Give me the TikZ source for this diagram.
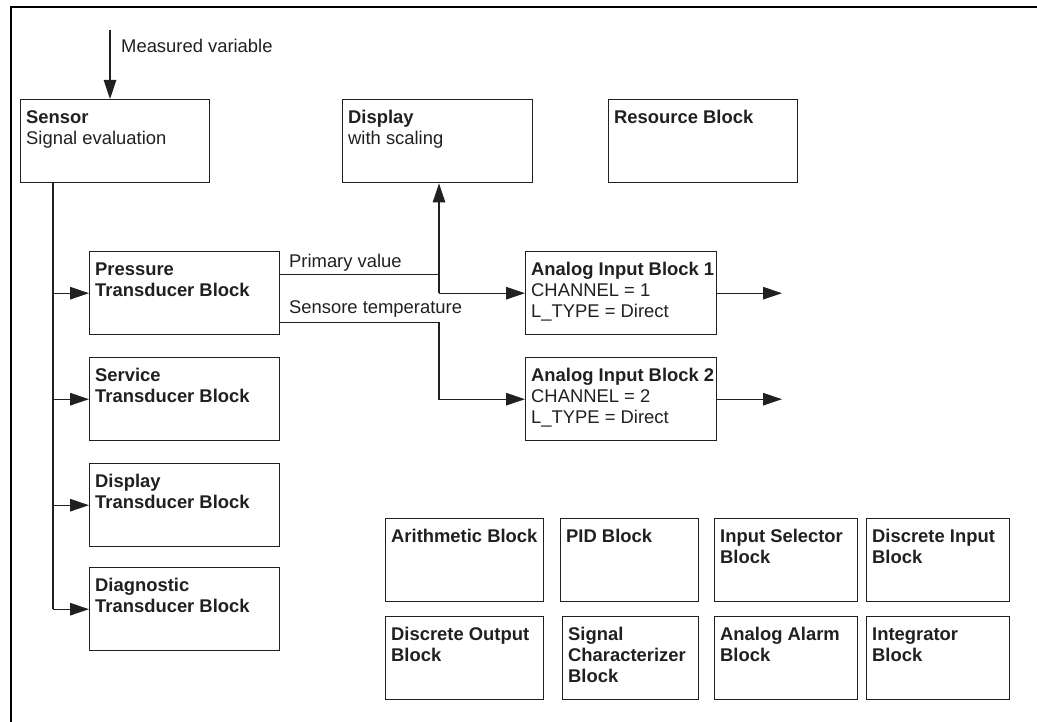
\documentclass[tikz,border=0pt]{standalone}
\usepackage{fontspec}
\setmainfont{Liberation Sans}
\usetikzlibrary{arrows.meta,calc}
\definecolor{ink}{HTML}{231F20}
\newcommand\blk[6]{%
  \node[box, minimum width=#4pt, minimum height=#5pt, anchor=north west] (#1) at (#2,#3) {};
  \node[txt, anchor=north west] (#1-t) at ([shift={(6,9.5)}]#1.north west) {\strut #6};
}
\begin{document}
\begin{tikzpicture}[x=1pt,y=-1pt,
  box/.style={draw=ink, line width=1.4pt, inner sep=0pt, fill=none},
  txt/.style={inner sep=0pt, align=left, text=ink, font=\fontsize{18.4}{21}\selectfont},
  lbl/.style={inner sep=0pt, text=ink, font=\fontsize{18.4}{21}\selectfont},
  line/.style={draw=ink, line width=1.1pt},
  arr/.style={line, -{Triangle[length=19pt,width=12.5pt]}},
  frame/.style={draw=black, line width=1.3pt}]
\useasboundingbox (0,0) rectangle (1037,722);
\draw[frame] (11,722) -- (11,7) -- (1037,7);

% top row
\blk{sensor}{20}{99}{189}{83}{\textbf{Sensor}\\Signal evaluation}
\blk{disp}{342}{99}{190}{83}{\textbf{Display}\\with scaling}
\blk{res}{608}{99}{189}{83}{\textbf{Resource Block}}

% transducer blocks
\blk{press}{89}{251}{190}{83}{\textbf{Pressure}\\\textbf{Transducer Block}}
\blk{serv}{89}{357}{190}{83}{\textbf{Service}\\\textbf{Transducer Block}}
\blk{dtb}{89}{463}{190}{83}{\textbf{Display}\\\textbf{Transducer Block}}
\blk{diag}{89}{567}{190}{83}{\textbf{Diagnostic}\\\textbf{Transducer Block}}

% analog input blocks
\blk{ai1}{525}{251}{191}{83}{\textbf{Analog Input Block 1}\\CHANNEL = 1\\L\_TYPE = Direct}
\blk{ai2}{525}{357}{191}{83}{\textbf{Analog Input Block 2}\\CHANNEL = 2\\L\_TYPE = Direct}

% function blocks
\blk{arith}{385}{518}{158}{83}{\textbf{Arithmetic Block}}
\blk{pid}{560}{518}{138}{83}{\textbf{PID Block}}
\blk{isel}{714}{518}{143}{83}{\textbf{Input Selector}\\\textbf{Block}}
\blk{dinp}{866}{518}{143}{83}{\textbf{Discrete Input}\\\textbf{Block}}
\blk{dout}{385}{616}{158}{83}{\textbf{Discrete Output}\\\textbf{Block}}
\blk{schar}{562}{616}{136}{83}{\textbf{Signal}\\\textbf{Characterizer}\\\textbf{Block}}
\blk{aalarm}{714}{616}{143}{83}{\textbf{Analog Alarm}\\\textbf{Block}}
\blk{integ}{866}{616}{143}{83}{\textbf{Integrator}\\\textbf{Block}}

% measured variable
\coordinate (mv) at (110,30);
\draw[arr] (mv) -- (mv |- sensor.north);
\node[lbl, anchor=base west] (mvl) at (121,53) {Measured variable};

% trunk from sensor
\coordinate (tk) at (53,0);
\draw[line] (tk |- sensor.south) -- (tk |- diag.west);
\draw[arr] (tk |- press.west) -- (press.west);
\draw[arr] (tk |- serv.west) -- (serv.west);
\draw[arr] (tk |- dtb.west) -- (dtb.west);
\draw[arr] (tk |- diag.west) -- (diag.west);

% primary value and sensor temperature
\coordinate (jx) at (439,0);
\coordinate (pv) at ([yshift=18.5pt]press.east);
\coordinate (st) at ([yshift=-29.5pt]press.east);
\draw[line] (pv) -- (pv -| jx);
\draw[arr] (jx |- ai1.west) -- (jx |- disp.south);
\draw[arr] (jx |- ai1.west) -- (ai1.west);
\draw[arr] (st) -- (st -| jx) -- (jx |- ai2.west) -- (ai2.west);
\node[lbl, anchor=base west] (pvl) at (289,268) {Primary value};
\node[lbl, anchor=base west] (stl) at (289,313) {Sensore temperature};

% outputs
\coordinate (ox) at (782,0);
\draw[arr] (ai1.east) -- (ai1.east -| ox);
\draw[arr] (ai2.east) -- (ai2.east -| ox);
\end{tikzpicture}
\end{document}
